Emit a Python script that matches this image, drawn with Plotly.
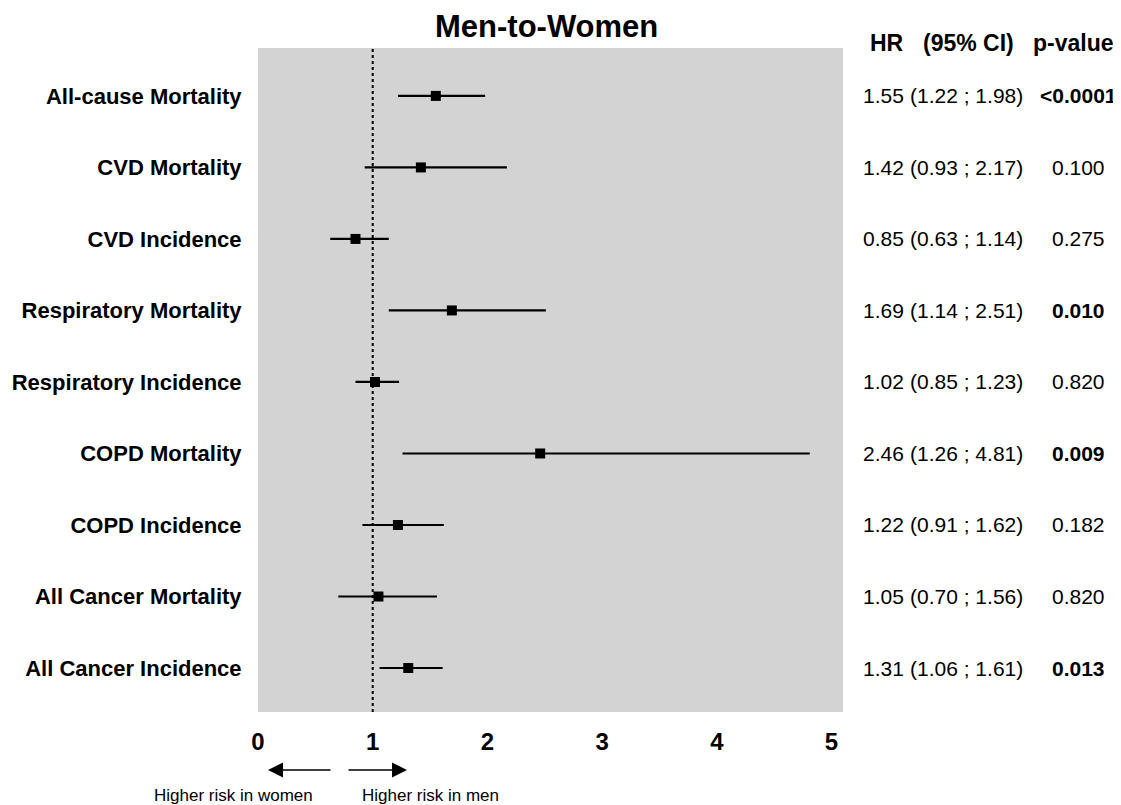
import plotly.graph_objects as go

outcomes = ["All-cause Mortality", "CVD Mortality", "CVD Incidence", "Respiratory Mortality",
            "Respiratory Incidence", "COPD Mortality", "COPD Incidence", "All Cancer Mortality",
            "All Cancer Incidence"]
hr = [1.55, 1.42, 0.85, 1.69, 1.02, 2.46, 1.22, 1.05, 1.31]
ci_low = [1.22, 0.93, 0.63, 1.14, 0.85, 1.26, 0.91, 0.70, 1.06]
ci_high = [1.98, 2.17, 1.14, 2.51, 1.23, 4.81, 1.62, 1.56, 1.61]
p_text = ["<0.0001", "0.100", "0.275", "0.010", "0.820", "0.009", "0.182", "0.820", "0.013"]
p_bold = [True, False, False, True, False, True, False, False, True]
x_ticks = [0, 1, 2, 3, 4, 5]

OFF = 8  # page body margin
W, H = 1121 - OFF, 805 - OFF
# plot area in page pixels
L, R, T, B = 258, 843, 48, 712
FONT = "Liberation Sans, Arial, sans-serif"

def px(xp):
    return (xp - L) / (R - L)

def py(yp):
    return 1 - (yp - T) / (B - T)

rows = list(range(len(outcomes)))

fig = go.Figure()
fig.add_trace(go.Scatter(
    x=hr, y=rows, mode="markers",
    marker=dict(symbol="square", size=10, color="black"),
    error_x=dict(type="data", symmetric=False,
                 array=[h - m for h, m in zip(ci_high, hr)],
                 arrayminus=[m - l for m, l in zip(hr, ci_low)],
                 thickness=2.2, width=0, color="black"),
    showlegend=False, hoverinfo="skip", cliponaxis=False,
))

fig.add_shape(type="line", x0=1, x1=1, xref="x", y0=0, y1=1, yref="paper",
              line=dict(color="black", width=2, dash="dot"))

ann = []
ann.append(dict(text="<b>Men-to-Women</b>", x=px(546), y=py(26), xref="paper", yref="paper",
                showarrow=False, font=dict(size=31, family=FONT, color="black"),
                xanchor="center", yanchor="middle"))
hdr_font = dict(size=23, family=FONT, color="black")
ann.append(dict(text="<b>HR</b>", x=px(868), y=py(43), xref="paper", yref="paper",
                showarrow=False, font=hdr_font, xanchor="left", yanchor="middle"))
ann.append(dict(text="<b>(95% CI)</b>", x=px(969), y=py(43), xref="paper", yref="paper",
                showarrow=False, font=hdr_font, xanchor="center", yanchor="middle"))
ann.append(dict(text="<b>p-value</b>", x=px(1116), y=py(43), xref="paper", yref="paper",
                showarrow=False, font=hdr_font, xanchor="right", yanchor="middle"))
rfont = dict(size=21, family=FONT, color="black")
for i in rows:
    ann.append(dict(text=f"{hr[i]:.2f}", x=px(861), y=i, xref="paper", yref="y",
                    showarrow=False, font=rfont, xanchor="left", yanchor="middle"))
    ann.append(dict(text=f"({ci_low[i]:.2f} ; {ci_high[i]:.2f})", x=px(908), y=i, xref="paper", yref="y",
                    showarrow=False, font=rfont, xanchor="left", yanchor="middle"))
    t = p_text[i].replace("<", "&lt;")
    ann.append(dict(text=f"<b>{t}</b>" if p_bold[i] else t, x=px(1078), y=i, xref="paper", yref="y",
                    showarrow=False, font=rfont, xanchor="center", yanchor="middle"))
# arrows
ann.append(dict(x=px(268), y=py(770), ax=64, ay=0, xref="paper", yref="paper",
                showarrow=True, arrowhead=2, arrowsize=2,
                arrowwidth=1.5, arrowcolor="black", text=""))
ann.append(dict(x=px(407), y=py(770), ax=-60, ay=0, xref="paper", yref="paper",
                showarrow=True, arrowhead=2, arrowsize=2,
                arrowwidth=1.5, arrowcolor="black", text=""))
bfont = dict(size=17, family=FONT, color="black")
ann.append(dict(text="Higher risk in women", x=px(233), y=py(795), xref="paper", yref="paper",
                showarrow=False, font=bfont, xanchor="center", yanchor="middle"))
ann.append(dict(text="Higher risk in men", x=px(360), y=py(795), xref="paper", yref="paper",
                showarrow=False, font=bfont, xanchor="left", yanchor="middle"))

fig.update_layout(
    width=W, height=H,
    margin=dict(l=L - OFF, r=W - (R - OFF), t=T - OFF, b=H - (B - OFF), pad=0, autoexpand=False),
    paper_bgcolor="white", plot_bgcolor="#d3d3d3",
    annotations=ann,
    xaxis=dict(range=[0, 5.1], tickvals=x_ticks, showgrid=False, zeroline=False, automargin=False,
               showline=False, ticks="outside", ticklen=8, tickcolor="rgba(0,0,0,0)",
               tickfont=dict(size=24, family=FONT, color="black", weight="bold")),
    yaxis=dict(range=[8.615, -0.67], tickvals=rows, ticktext=outcomes, showgrid=False,
               zeroline=False, showline=False, ticks="outside", ticklen=11, automargin=False,
               tickcolor="rgba(0,0,0,0)",
               tickfont=dict(size=22, family=FONT, color="black", weight="bold")),
)

fig.write_html("out.html")
